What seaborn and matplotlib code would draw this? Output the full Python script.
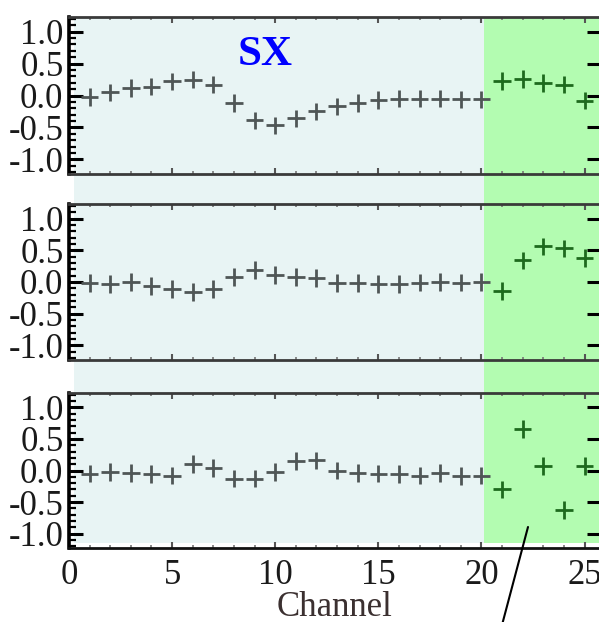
import numpy as np
import pandas as pd
import matplotlib
matplotlib.use("Agg")
import matplotlib.pyplot as plt
import seaborn as sns
from matplotlib.patches import Rectangle
from matplotlib.lines import Line2D
from matplotlib.transforms import blended_transform_factory
from matplotlib.ticker import MultipleLocator

# ---- data ----
channels = list(range(1, 26))
panel1 = [-0.02, 0.05, 0.12, 0.14, 0.22, 0.25, 0.17, -0.12, -0.39, -0.47,
          -0.36, -0.25, -0.17, -0.12, -0.07, -0.05, -0.05, -0.05, -0.06, -0.06,
          0.23, 0.26, 0.20, 0.17, -0.08]
panel2 = [-0.02, -0.03, 0.00, -0.06, -0.11, -0.16, -0.11, 0.08, 0.19, 0.11,
          0.08, 0.06, -0.02, -0.02, -0.03, -0.03, -0.01, 0.00, -0.01, 0.00,
          -0.14, 0.34, 0.56, 0.53, 0.38]
panel3 = [-0.05, -0.02, -0.04, -0.06, -0.08, 0.10, 0.04, -0.13, -0.13, -0.02,
          0.15, 0.16, 0.00, -0.04, -0.05, -0.06, -0.08, -0.04, -0.09, -0.08,
          -0.30, 0.66, 0.07, -0.63, 0.07]
split_channel = 20.15
shade_start = 0.25
xticks = [0, 5, 10, 15, 20, 25]
yticks = [-1.0, -0.5, 0.0, 0.5, 1.0]
title_text = "SX"
xlabel_text = "Channel"

# ---- style ----
sns.set_theme(style="white")
plt.rcParams["font.family"] = ["Liberation Serif", "DejaVu Serif"]

W, H = 599, 622
fig = plt.figure(figsize=(W / 100, H / 100), dpi=100)

def fx(px):
    return px / W

def fy(px):
    return 1 - px / H

left_px, right_px = 69, 601
panel_px = [(17, 174), (204, 360), (393, 548)]
axes = []
for top, bot in panel_px:
    ax = fig.add_axes([fx(left_px), fy(bot), fx(right_px - left_px), (bot - top) / H])
    ax.set_facecolor("none")
    axes.append(ax)

cyan = "#e8f4f4"
green = "#b3fcb1"
gray_pt = "#4f5656"
green_pt = "#1d6a1d"

for ax, vals in zip(axes, [panel1, panel2, panel3]):
    df = pd.DataFrame({"channel": channels, "value": vals})
    df["region"] = np.where(df["channel"] <= split_channel, "base", "tail")
    sns.scatterplot(data=df, x="channel", y="value", hue="region",
                    palette={"base": gray_pt, "tail": green_pt},
                    marker="+", s=160, linewidth=2.0, legend=False, ax=ax,
                    zorder=3, clip_on=False)
    ax.set_xlim(0, 25.8)
    ax.set_ylim(-1.23, 1.23)
    ax.set_xticks(xticks)
    ax.set_yticks(yticks)
    ax.set_yticklabels([f"{v:.1f}" for v in yticks])
    ax.xaxis.set_minor_locator(MultipleLocator(1))
    ax.yaxis.set_minor_locator(MultipleLocator(0.1))
    ax.tick_params(axis="y", which="major", direction="in", length=10, width=2.2,
                   color="black", left=True, right=True, labelsize=25, pad=4,
                   labelcolor="#1a1a1a")
    ax.tick_params(axis="y", which="minor", direction="in", length=5, width=1.6,
                   color="black", left=True, right=False)
    ax.tick_params(axis="x", which="major", direction="in", length=4, width=1.5,
                   color="#555555", bottom=True, top=True, labelsize=25, pad=8,
                   labelcolor="#1a1a1a")
    ax.tick_params(axis="x", which="minor", direction="in", length=2, width=1.2,
                   color="#777777", bottom=True, top=True)
    ax.set_xlabel("")
    ax.set_ylabel("")
    ax.spines["left"].set_color("black")
    ax.spines["left"].set_linewidth(2.6)
    for s in ("top", "bottom"):
        ax.spines[s].set_color("#3a3a3a")
        ax.spines[s].set_linewidth(2.0)
    ax.spines["right"].set_visible(False)

for ax in axes[:2]:
    ax.tick_params(axis="x", labelbottom=False)
axes[2].spines["bottom"].set_color("#111111")

axes[2].set_xlabel(xlabel_text, fontsize=25, color="#3b3030", labelpad=-1)

# background shading spanning the panels
tr = blended_transform_factory(axes[0].transData, fig.transFigure)
y_top, y_bot = fy(17), fy(543)
fig.add_artist(Rectangle((shade_start, y_bot), split_channel - shade_start, y_top - y_bot,
                         transform=tr, facecolor=cyan, edgecolor="none", zorder=-5))
fig.add_artist(Rectangle((split_channel, y_bot), 30 - split_channel, y_top - y_bot,
                         transform=tr, facecolor=green, edgecolor="none", zorder=-5))

fig.text(fx(265), fy(55), title_text, ha="center", va="center", color="#0000ff",
         fontsize=31, fontweight="bold")

fig.add_artist(Line2D([fx(528), fx(502)], [fy(527), fy(625)],
                      transform=fig.transFigure, color="black", lw=1.5))

fig.savefig("out.png", dpi=100)
